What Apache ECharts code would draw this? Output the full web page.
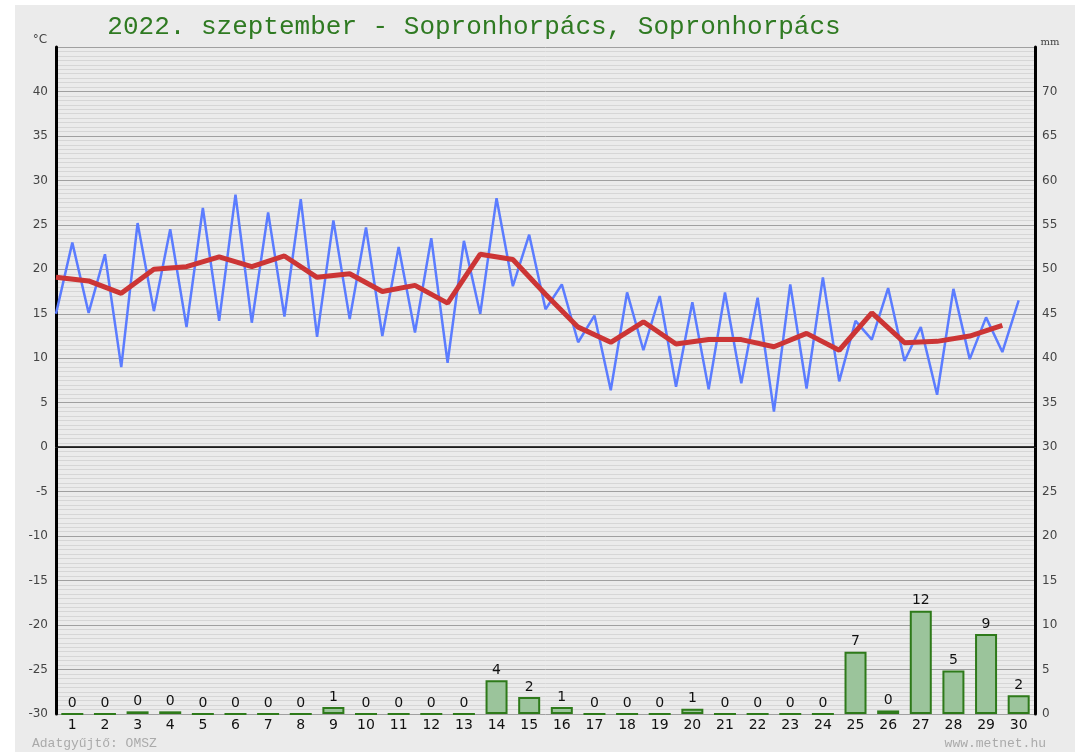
<!DOCTYPE html>
<html>
<head>
<meta charset="utf-8">
<script src="https://cdn.jsdelivr.net/npm/echarts@6/dist/echarts.min.js"></script>
<style>
html,body{margin:0;padding:0;background:#ffffff;}
#chart{width:1075px;height:752px;}
</style>
</head>
<body>
<div id="chart"></div>
<script>
// Data
const days = ['1','2','3','4','5','6','7','8','9','10','11','12','13','14','15','16','17','18','19','20','21','22','23','24','25','26','27','28','29','30'];
const tMin = [15.0,15.1,9.0,15.3,13.5,14.2,14.0,14.7,12.4,14.4,12.5,12.9,9.5,15.0,18.1,15.5,11.8,6.4,10.9,6.8,6.5,7.2,4.0,6.6,7.4,12.1,9.7,5.9,9.9,10.7];
const tMax = [23.0,21.7,25.2,24.5,26.9,28.4,26.4,27.9,25.5,24.7,22.5,23.5,23.2,28.0,23.9,18.3,14.8,17.4,17.0,16.3,17.4,16.8,18.3,19.1,14.2,17.9,13.5,17.8,14.6,16.5];
const tMean = [19.1,18.7,17.3,20.0,20.3,21.4,20.3,21.5,19.1,19.5,17.5,18.2,16.2,21.7,21.1,17.2,13.5,11.8,14.1,11.6,12.1,12.1,11.3,12.8,10.9,15.1,11.75,11.9,12.5,13.7];
const precip = [0,0,0.3,0.3,0,0,0,0,0.8,0,0,0,0,3.8,1.9,0.8,0,0,0,0.6,0,0,0,0,7.0,0.4,11.6,4.9,9.0,2.1];
const titleText = '2022. szeptember - Sopronhorpács, Sopronhorpács';

// Build line data: min at start of day, max at middle of day, mean at start of day
const tempZigzag = [];
for (let i = 0; i < days.length; i++) {
  tempZigzag.push([i, tMin[i]]);
  tempZigzag.push([i + 0.5, tMax[i]]);
}
const meanLine = tMean.map((v, i) => [i, v]);

const chart = echarts.init(document.getElementById('chart'), null, {renderer: 'canvas'});
const labelFont = 'DejaVu Sans';
const option = {
  backgroundColor: '#ffffff',
  animation: false,
  graphic: [
    {type: 'rect', z: -10, shape: {x: 15, y: 5, width: 1060, height: 747}, style: {fill: '#ebebeb'}, silent: true},
    {type: 'text', x: 474, y: 27, style: {text: titleText, fill: '#2f7a22', font: '26px "Liberation Mono", "Courier New", monospace', textAlign: 'center', textVerticalAlign: 'middle'}},
    {type: 'text', x: 40, y: 40, style: {text: '°C', fill: '#444', font: '12px "DejaVu Sans"', textAlign: 'center', textVerticalAlign: 'middle'}},
    {type: 'text', x: 1050, y: 42, style: {text: 'mm', fill: '#444', font: '10px "DejaVu Serif"', textAlign: 'center', textVerticalAlign: 'middle'}},
    {type: 'text', x: 32, y: 744, style: {text: 'Adatgyűjtő: OMSZ', fill: '#aaaaaa', font: '13px "Liberation Mono", monospace', textAlign: 'left', textVerticalAlign: 'middle'}},
    {type: 'text', x: 1046, y: 744, style: {text: 'www.metnet.hu', fill: '#aaaaaa', font: '13px "Liberation Mono", monospace', textAlign: 'right', textVerticalAlign: 'middle'}}
  ],
  grid: {left: 56, right: 40, top: 47, bottom: 38, containLabel: false},
  xAxis: [
    {
      type: 'category', data: days, boundaryGap: true, position: 'bottom',
      axisLine: {show: true, lineStyle: {color: '#777', width: 1}},
      axisTick: {show: false},
      axisLabel: {color: '#111', fontFamily: labelFont, fontSize: 14, margin: 4, interval: 0},
      splitLine: {show: false}
    },
    {
      type: 'value', min: 0, max: 30, show: false
    }
  ],
  yAxis: [
    {
      type: 'value', min: -30, max: 45, interval: 5, position: 'left',
      axisLine: {show: true, onZero: false, lineStyle: {color: '#000', width: 3}},
      axisTick: {show: false},
      axisLabel: {color: '#444', fontFamily: labelFont, fontSize: 12, margin: 8, showMaxLabel: false, padding: [0, 0, 10, 0]},
      splitLine: {show: true, lineStyle: {color: '#a0a0a0', width: 1}},
      minorTick: {show: false, splitNumber: 10},
      minorSplitLine: {show: true, lineStyle: {color: '#d6d6d6', width: 1}}
    },
    {
      type: 'value', min: 0, max: 75, interval: 5, position: 'right',
      axisLine: {show: true, onZero: false, lineStyle: {color: '#000', width: 3}},
      axisTick: {show: false},
      axisLabel: {color: '#444', fontFamily: labelFont, fontSize: 12, margin: 7, showMaxLabel: false, padding: [0, 0, 10, 0]},
      splitLine: {show: false}
    }
  ],
  series: [
    {
      name: 'Csapadék', type: 'bar', xAxisIndex: 0, yAxisIndex: 1, data: precip,
      barWidth: 22,
      itemStyle: {color: '#9bc49b', borderColor: '#2e7a1a', borderWidth: 2},
      label: {show: true, position: 'top', color: '#111', fontFamily: labelFont, fontSize: 14, distance: 3,
        formatter: p => String(Math.round(p.value))},
      z: 2
    },
    {
      name: 'Hőmérséklet', type: 'line', xAxisIndex: 1, yAxisIndex: 0, data: tempZigzag,
      symbol: 'none', lineStyle: {color: '#5b7cff', width: 2.5}, z: 3,
      markLine: {silent: true, symbol: 'none', label: {show: false},
        lineStyle: {color: '#000', width: 1.5, type: 'solid'}, data: [{yAxis: 0}]}
    },
    {
      name: 'Átlag', type: 'line', xAxisIndex: 1, yAxisIndex: 0, data: meanLine,
      symbol: 'none', lineStyle: {color: '#cc3535', width: 5}, z: 4
    }
  ]
};
chart.setOption(option);
</script>
</body>
</html>
